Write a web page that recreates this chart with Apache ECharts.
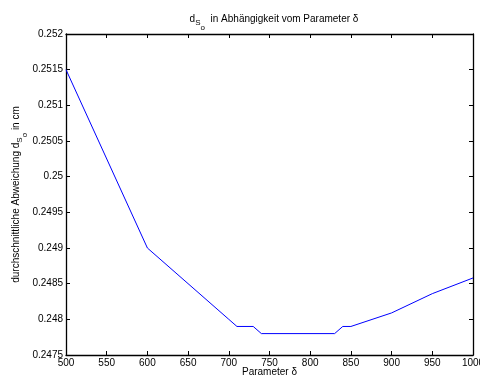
<!DOCTYPE html>
<html><head><meta charset="utf-8">
<script src="https://cdn.jsdelivr.net/npm/echarts@6/dist/echarts.min.js"></script>
<style>html,body{margin:0;padding:0;background:#fff}#c{width:480px;height:378px}</style>
</head><body><div id="c"></div>
<script>
const deltaValues = [500, 600, 700, 710, 730, 740, 830, 840, 850, 900, 950, 1000];
const dsoValues = [0.2515, 0.2490, 0.2480, 0.2479, 0.2479, 0.2478, 0.2478, 0.2479, 0.2479, 0.24809, 0.24836, 0.24858];
const xTicks = [500, 550, 600, 650, 700, 750, 800, 850, 900, 950, 1000];
const yTicks = [0.2475, 0.248, 0.2485, 0.249, 0.2495, 0.25, 0.2505, 0.251, 0.2515, 0.252];

const FONT = 'Liberation Sans, Arial, Helvetica, sans-serif';
const chart = echarts.init(document.getElementById('c'), null, {renderer: 'canvas'});
const axisLine = {show: true, lineStyle: {color: '#000', width: 1.3}};
const tick = {show: true, inside: true, length: 4, lineStyle: {color: '#000', width: 1}};
const subRich = {
  n: {fontSize: 10, fontFamily: FONT, color: '#000', verticalAlign: 'top', lineHeight: 12},
  s: {fontSize: 8, fontFamily: FONT, color: '#000', verticalAlign: 'top', padding: [5, 0, 0, 0], lineHeight: 10},
  o: {fontSize: 8, fontFamily: FONT, color: '#000', verticalAlign: 'top', padding: [10, 0, 0, 0], lineHeight: 10}
};
chart.setOption({
  backgroundColor: '#fff',
  animation: false,
  title: {
    text: '{n|d}{s|S}{o|o}{n|  in Abhängigkeit vom Parameter δ}',
    left: 269, top: 9, textAlign: 'center',
    textStyle: {rich: subRich, fontSize: 10, fontWeight: 'normal'}
  },
  grid: {left: 66, right: 7, top: 34, bottom: 23, containLabel: false, outerBoundsMode: 'none'},
  xAxis: [{
    type: 'value', min: 500, max: 1000, interval: 50,
    axisLine: axisLine, axisTick: tick, splitLine: {show: false},
    axisLabel: {color: '#000', fontSize: 10, fontFamily: FONT, margin: 3, showMaxLabel: true,
      formatter: v => String(v)},
    name: 'Parameter δ', nameLocation: 'middle', nameGap: 12, nameMoveOverlap: false,
    nameTextStyle: {color: '#000', fontSize: 10, fontFamily: FONT}
  }, {
    type: 'value', position: 'top', min: 500, max: 1000, interval: 50,
    axisLine: axisLine, axisTick: tick, axisLabel: {show: false}, splitLine: {show: false}
  }],
  yAxis: [{
    type: 'value', min: 0.2475, max: 0.252, interval: 0.0005,
    axisLine: axisLine, axisTick: tick, splitLine: {show: false},
    axisLabel: {color: '#000', fontSize: 10, fontFamily: FONT, margin: 3,
      formatter: v => String(+v.toFixed(4))},
    name: '{n|durchschnittliche Abweichung d}{s|S}{o|o}{n| in cm}',
    nameLocation: 'middle', nameGap: 43, nameRotate: 90, nameMoveOverlap: false,
    nameTextStyle: {rich: subRich, fontSize: 10}
  }, {
    type: 'value', position: 'right', min: 0.2475, max: 0.252, interval: 0.0005,
    axisLine: axisLine, axisTick: tick, axisLabel: {show: false}, splitLine: {show: false}
  }],
  series: [{
    type: 'line', xAxisIndex: 0, yAxisIndex: 0,
    data: deltaValues.map((d, i) => [d, dsoValues[i]]),
    symbol: 'none', smooth: false,
    lineStyle: {color: '#0000ff', width: 1}
  }]
});
</script></body></html>
